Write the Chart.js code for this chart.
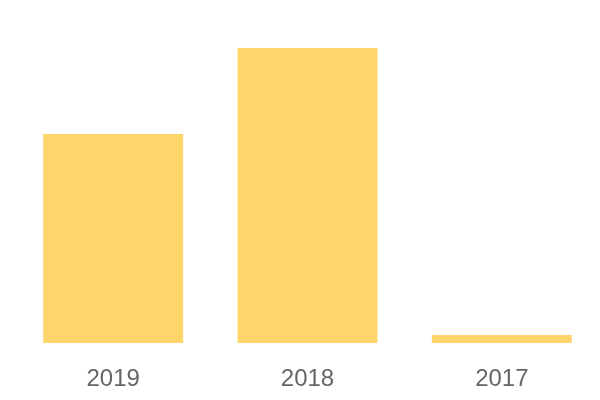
<!DOCTYPE html>
<html>
<head>
<meta charset="utf-8">
<script src="https://cdn.jsdelivr.net/npm/chart.js@4"></script>
<style>
  html, body { margin: 0; padding: 0; background: #fff; }
  #wrap { width: 600px; height: 400px; }
</style>
</head>
<body>
<div id="wrap"><canvas id="barChart" width="600" height="400"></canvas></div>
<script>
// Categories and values
const years = ['2019', '2018', '2017'];
const amounts = [209, 295, 8];

const barColor = '#fdd56b';

const ctx = document.getElementById('barChart').getContext('2d');
new Chart(ctx, {
    type: 'bar',
    data: {
        labels: years,
        datasets: [{
            data: amounts,
            backgroundColor: barColor,
            borderWidth: 0,
            categoryPercentage: 0.8,
            barPercentage: 0.9
        }]
    },
    options: {
        responsive: false,
        animation: false,
        layout: { padding: { top: 48, left: 16, right: 1, bottom: 0 } },
        plugins: { legend: { display: false }, tooltip: { enabled: false } },
        scales: {
            x: {
                grid: { display: false },
                border: { display: false },
                afterFit: (axis) => { axis.height = 57; },
                ticks: {
                    color: '#666',
                    padding: 14,
                    font: { family: 'Liberation Sans', size: 24 }
                }
            },
            y: {
                display: false,
                min: 0,
                max: 295
            }
        }
    }
});
</script>
</body>
</html>
